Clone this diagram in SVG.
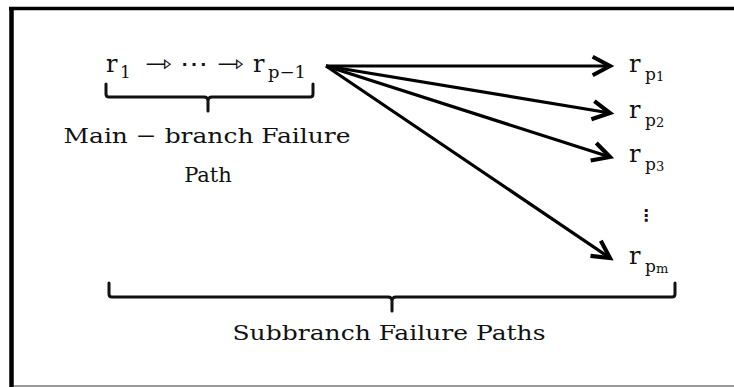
<svg xmlns="http://www.w3.org/2000/svg" width="734" height="387" viewBox="0 0 734 387">
<style>
.t{font-family:"DejaVu Serif","Liberation Serif",serif;fill:#111;}
.m{font-size:24px}
.s{font-size:17px}
.lbl{font-size:21px;text-anchor:middle}
.brace{fill:none;stroke:#111;stroke-width:3;stroke-linejoin:round;stroke-linecap:round}
.edge{stroke:#000;stroke-width:3.2;fill:none}
.arr{font-family:"DejaVu Sans",sans-serif;font-size:24px;fill:#111}
</style>
<defs>
<marker id="ah" markerUnits="userSpaceOnUse" markerWidth="26" markerHeight="24" refX="19" refY="10" orient="auto" viewBox="0 0 24 20">
<path d="M3,1.5 L19,10 L3,18.5" fill="none" stroke="#000" stroke-width="3.8" stroke-linejoin="miter"/>
</marker>
</defs>
<rect width="734" height="387" fill="#fff"/>
<g id="frame">
<line x1="11.5" y1="7" x2="11.5" y2="387" stroke="#000" stroke-width="4.5"/>
<line x1="9" y1="8.5" x2="734" y2="8.5" stroke="#000" stroke-width="3.5"/>
<line x1="14" y1="386" x2="734" y2="386" stroke="#999" stroke-width="2"/>
</g>
<g id="main-path">
<text class="t m" x="106" y="72">r</text>
<text class="t s" x="120" y="78">1</text>
<text class="arr" x="145" y="72" textLength="27" lengthAdjust="spacingAndGlyphs">⇾</text>
<text class="t m" x="180" y="72" textLength="28" lengthAdjust="spacingAndGlyphs">⋯</text>
<text class="arr" x="217" y="72" textLength="27" lengthAdjust="spacingAndGlyphs">⇾</text>
<text class="t m" x="253" y="72">r</text>
<text class="t s" x="268" y="78" textLength="38" lengthAdjust="spacingAndGlyphs">p−1</text>
</g>
<g id="main-brace">
<path class="brace" d="M106,84 V94 Q106,97 109,97 H204 Q208,97 208,101 V111 M208,101 Q208,97 212,97 H310 Q313,97 313,94 V84"/>
<text class="t lbl" x="207" y="143" textLength="287" lengthAdjust="spacingAndGlyphs">Main − branch Failure</text>
<text class="t lbl" x="208" y="182">Path</text>
</g>
<g id="connectors">
<line class="edge" x1="326" y1="66" x2="610" y2="66" marker-end="url(#ah)"/>
<line class="edge" x1="326" y1="66" x2="610" y2="113" marker-end="url(#ah)"/>
<line class="edge" x1="326" y1="66" x2="610" y2="157" marker-end="url(#ah)"/>
<line class="edge" x1="326" y1="66" x2="610" y2="258" marker-end="url(#ah)"/>
</g>
<g id="rp1"><text class="t m" x="629" y="72">r</text><text class="t s" x="645" y="80">p<tspan font-size="13" dy="1">1</tspan></text></g>
<g id="rp2"><text class="t m" x="629" y="118">r</text><text class="t s" x="645" y="126">p<tspan font-size="13" dy="1">2</tspan></text></g>
<g id="rp3"><text class="t m" x="629" y="162">r</text><text class="t s" x="645" y="170">p<tspan font-size="13" dy="1">3</tspan></text></g>
<g id="vdots"><text x="646" y="221" font-size="16" text-anchor="middle" font-family="DejaVu Sans,sans-serif" font-weight="bold" fill="#111">⋮</text></g>
<g id="rpm"><text class="t m" x="629" y="264">r</text><text class="t s" x="645" y="272">p<tspan font-size="13" dy="1">m</tspan></text></g>
<g id="sub-brace">
<path class="brace" d="M109,283 V294 Q109,297 112,297 H388 Q392,297 392,301 V311 M392,301 Q392,297 396,297 H672 Q675,297 675,294 V283"/>
<text class="t lbl" x="389" y="340" textLength="313" lengthAdjust="spacingAndGlyphs">Subbranch Failure Paths</text>
</g>
</svg>
